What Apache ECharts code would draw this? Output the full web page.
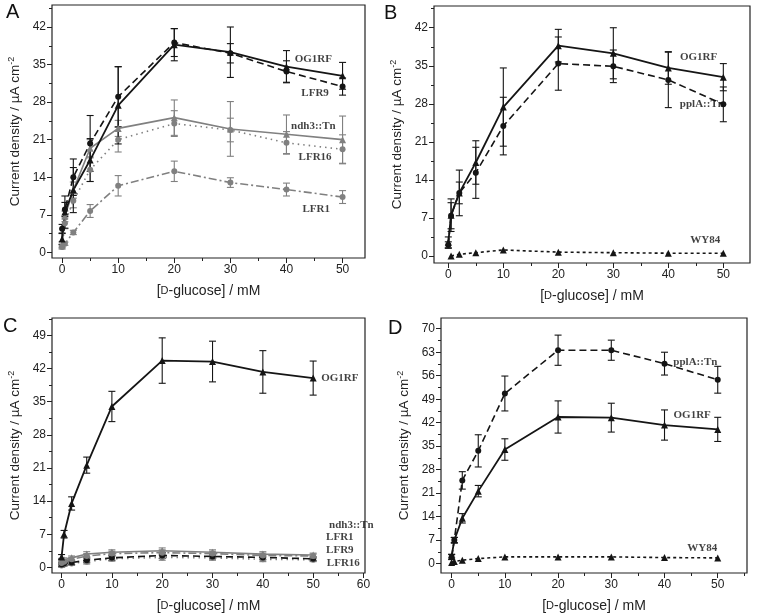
<!DOCTYPE html>
<html>
<head>
	<meta charset="utf-8">
	<title>Current density vs glucose</title>
	<script src="https://cdn.jsdelivr.net/npm/echarts@6.0.0/dist/echarts.min.js"></script>
	<style>
		html, body { margin: 0; padding: 0; background: #fff; }
		#chart { width: 760px; height: 614px; }
	</style>
</head>
<body>
	<div id="chart"></div>
	<script>
		// glucose concentrations (mM)
		var conc = [0, 0.5, 2, 5, 10, 20, 30, 40, 50];

		// panel A / B
		var og1rfAB     = [2.5, 7.5, 11.6, 17.2, 27.4, 38.7, 37.3, 34.6, 32.9];
		var og1rfABErr  = [1.0, 3.0, 4.2, 4.0, 7.2, 3.0, 4.7, 3.0, 2.5];
		var lfr9A       = [4.4, 8.0, 14.0, 20.3, 29.0, 39.1, 37.1, 33.7, 30.9];
		var lfr9AErr    = [0.8, 1.3, 3.4, 5.2, 5.6, 2.6, 1.8, 2.0, 1.6];
		var ndh3A       = [1.5, 6.7, 11.6, 19.4, 23.1, 25.1, 23.0, 22.0, 21.0];
		var ndh3AErr    = [0.5, 1.0, 1.5, 1.6, 1.5, 3.3, 5.1, 3.6, 4.4];
		var lfr16A      = [1.0, 5.4, 9.6, 15.4, 21.0, 24.0, 22.8, 20.4, 19.2];
		var lfr16AErr   = [0.4, 1.0, 1.3, 2.2, 2.3, 2.4, 2.2, 2.1, 2.7];
		var lfr1A       = [1.1, 1.6, 3.7, 7.7, 12.4, 15.1, 13.0, 11.7, 10.3];
		var lfr1AErr    = [0.3, 0.3, 0.4, 1.2, 1.9, 1.9, 0.9, 1.2, 1.2];
		var pplaB       = [2.0, 7.4, 11.6, 15.3, 23.9, 35.4, 34.9, 32.4, 27.9];
		var pplaBErr    = [0.6, 2.4, 2.0, 4.7, 5.3, 4.9, 3.0, 5.1, 3.2];
		var wy84B       = [null, 0.0, 0.3, 0.6, 1.1, 0.7, 0.6, 0.5, 0.5];

		// panel C / D
		var og1rfCD     = [2.2, 7.0, 13.5, 21.6, 34.0, 43.7, 43.5, 41.3, 40.0];
		var og1rfCDErr  = [0.5, 0.8, 1.4, 1.7, 3.2, 4.8, 4.3, 4.5, 3.6];
		var ndh3C       = [1.5, 1.6, 2.0, 2.8, 3.2, 3.5, 3.2, 2.8, 2.6];
		var lfr1C       = [0.9, 1.2, 1.7, 2.4, 2.9, 3.1, 2.9, 2.5, 2.4];
		var lfr9C       = [0.6, 0.8, 1.0, 1.5, 2.0, 2.5, 2.3, 2.1, 1.8];
		var lfr16C      = [0.4, 0.6, 0.8, 1.2, 1.8, 2.1, 2.0, 1.7, 1.6];
		var smallErrC   = [0.4, 0.4, 0.4, 0.5, 0.5, 0.6, 0.5, 0.5, 0.4];
		var pplaD       = [2.0, 7.0, 24.8, 33.6, 50.7, 63.6, 63.6, 59.6, 54.8];
		var pplaDErr    = [0.8, 0.8, 2.6, 4.8, 5.2, 4.5, 3.0, 3.4, 4.0];
		var wy84D       = [0.3, 0.6, 1.0, 1.5, 2.0, 2.0, 2.0, 1.8, 1.7];

		// tick labels
		var xTicks50 = [0, 10, 20, 30, 40, 50];
		var xTicks60 = [0, 10, 20, 30, 40, 50, 60];
		var yTicks42 = [0, 7, 14, 21, 28, 35, 42];
		var yTicks49 = [0, 7, 14, 21, 28, 35, 42, 49];
		var yTicks70 = [0, 7, 14, 21, 28, 35, 42, 49, 56, 63, 70];

		// curve labels [x, y, text]
		var labelsA = [[44.8, 36.0, 'OG1RF'], [45.1, 29.6, 'LFR9'], [44.8, 23.5, 'ndh3::Tn'], [45.1, 17.8, 'LFR16'], [45.3, 8.1, 'LFR1']];
		var labelsB = [[45.5, 36.6, 'OG1RF'], [46.1, 27.9, 'pplA::Tn'], [46.7, 2.9, 'WY84']];
		var labelsC = [[55.3, 40.0, 'OG1RF'], [57.6, 8.9, 'ndh3::Tn'], [55.3, 6.4, 'LFR1'], [55.3, 3.6, 'LFR9'], [56.0, 0.9, 'LFR16']];
		var labelsD = [[45.8, 60.0, 'pplA::Tn'], [45.2, 44.3, 'OG1RF'], [47.1, 4.5, 'WY84']];

		var BLACK = '#151515', GRAY = '#808080';
		var SANS = 'Liberation Sans, Arial, sans-serif';
		var SERIF = 'Liberation Serif, Times New Roman, serif';

		var styles = {
			og1rf: { color: BLACK, type: 'solid', symbol: 'triangle', width: 1.8 },
			lfr9: { color: BLACK, type: [7, 4], symbol: 'circle', width: 1.6 },
			ndh3: { color: GRAY, type: 'solid', symbol: 'triangle', width: 1.6 },
			lfr16: { color: GRAY, type: [1.5, 4], symbol: 'circle', width: 1.6 },
			lfr1: { color: GRAY, type: [8, 3, 2, 3], symbol: 'circle', width: 1.6 },
			ppla: { color: BLACK, type: [7, 4], symbol: 'circle', width: 1.6 },
			wy84: { color: BLACK, type: [3, 3], symbol: 'triangle', width: 1.6 }
		};

		var panels = [
			{ letter: 'A', grid: { left: 52, top: 5, width: 313, height: 253 }, x: [-1.8, 54], y: [-1.06, 46.1], xt: xTicks50, yt: yTicks42, lg: [-46, -3] },
			{ letter: 'B', grid: { left: 434, top: 6, width: 316, height: 257 }, x: [-2.6, 54.85], y: [-1.3, 46], xt: xTicks50, yt: yTicks42, lg: [-50, -3] },
			{ letter: 'C', grid: { left: 52, top: 318, width: 313, height: 257 }, x: [-1.9, 60.3], y: [-1.2, 52.7], xt: xTicks60, yt: yTicks49, lg: [-49, -2] },
			{ letter: 'D', grid: { left: 441, top: 318, width: 306, height: 255 }, x: [-2.0, 55.5], y: [-2.8, 73.2], xt: xTicks50, yt: yTicks70, lg: [-53, 0] }
		];

		function minors(ticks, max) {
			var step = ticks[1] - ticks[0];
			var out = [];
			ticks.forEach(function (t) { if (t + step / 2 <= max) out.push(t + step / 2); });
			return out;
		}

		function pairs(vals) {
			var out = [];
			vals.forEach(function (v, i) { if (v != null) out.push([conc[i], v]); });
			return out;
		}

		var grids = [], xAxes = [], yAxes = [], series = [], graphics = [];
		var minorX = [], minorY = [];

		panels.forEach(function (p, i) {
			grids.push(Object.assign({ show: true, borderColor: '#222', borderWidth: 1.2, backgroundColor: 'transparent' }, p.grid));
			xAxes.push({
				type: 'value', gridIndex: i, min: p.x[0], max: p.x[1], position: 'bottom',
				axisLine: { show: false, onZero: false }, splitLine: { show: false },
				axisTick: { show: true, inside: false, length: 5, lineStyle: { color: '#222' }, customValues: p.xt },
				axisLabel: { color: '#222', fontSize: 12, fontFamily: SANS, margin: 6, customValues: p.xt },
				name: '[{sc|D}-glucose] / mM', nameLocation: 'middle', nameGap: 26,
				nameTextStyle: { color: '#222', fontSize: 14, fontFamily: SANS, rich: { sc: { fontSize: 11, fontFamily: SANS, color: '#222' } } }
			});
			yAxes.push({
				type: 'value', gridIndex: i, min: p.y[0], max: p.y[1], position: 'left',
				axisLine: { show: false, onZero: false }, splitLine: { show: false },
				axisTick: { show: true, inside: false, length: 5, lineStyle: { color: '#222' }, customValues: p.yt },
				axisLabel: { color: '#222', fontSize: 12, fontFamily: SANS, margin: 6, customValues: p.yt },
				name: 'Current density / \u00b5A cm{sup|-2}', nameLocation: 'middle', nameGap: 29, nameRotate: 90,
				nameTextStyle: { color: '#222', fontSize: 13.5, fontFamily: SANS, rich: { sup: { fontSize: 9, fontFamily: SANS, color: '#222', padding: [0, 0, 7, 0] } } }
			});
			// minor ticks on extra axes sharing the same grid
			minorX.push({
				type: 'value', gridIndex: i, min: p.x[0], max: p.x[1], position: 'bottom', offset: 0,
				axisLine: { show: false, onZero: false }, splitLine: { show: false }, axisLabel: { show: false },
				axisTick: { show: true, inside: false, length: 3, lineStyle: { color: '#222', width: 1 }, customValues: minors(p.xt, p.x[1]) }
			});
			minorY.push({
				type: 'value', gridIndex: i, min: p.y[0], max: p.y[1], position: 'left', offset: 0,
				axisLine: { show: false, onZero: false }, splitLine: { show: false }, axisLabel: { show: false },
				axisTick: { show: true, inside: false, length: 3, lineStyle: { color: '#222', width: 1 }, customValues: minors(p.yt, p.y[1]) }
			});
			graphics.push({
				type: 'text', left: p.grid.left + p.lg[0], top: p.grid.top + p.lg[1],
				style: { text: p.letter, font: '20px ' + SANS, fill: '#111' }
			});
		});
		xAxes = xAxes.concat(minorX);
		yAxes = yAxes.concat(minorY);

		function addCurve(panel, vals, errs, st) {
			series.push({
				type: 'line', xAxisIndex: panel, yAxisIndex: panel,
				data: pairs(vals), symbol: st.symbol, symbolSize: st.symbol === 'triangle' ? 7 : 6,
				lineStyle: { color: st.color, width: st.width, type: st.type },
				itemStyle: { color: st.color }, z: 3, animation: false, silent: true
			});
			if (!errs) return;
			var ed = [];
			vals.forEach(function (v, k) { if (v != null) ed.push([conc[k], v, errs[k]]); });
			series.push({
				type: 'custom', xAxisIndex: panel, yAxisIndex: panel, data: ed,
				encode: { x: 0, y: 1 }, z: 2, animation: false, silent: true,
				renderItem: function (params, api) {
					var x = api.value(0), y = api.value(1), e = api.value(2);
					var t = api.coord([x, y + e]), b = api.coord([x, y - e]);
					var w = 3.5, s = { stroke: st.color, lineWidth: 1.1 };
					return { type: 'group', children: [
						{ type: 'line', shape: { x1: t[0], y1: t[1], x2: b[0], y2: b[1] }, style: s },
						{ type: 'line', shape: { x1: t[0] - w, y1: t[1], x2: t[0] + w, y2: t[1] }, style: s },
						{ type: 'line', shape: { x1: b[0] - w, y1: b[1], x2: b[0] + w, y2: b[1] }, style: s }
					] };
				}
			});
		}

		function addLabels(panel, list) {
			series.push({
				type: 'scatter', xAxisIndex: panel, yAxisIndex: panel, symbolSize: 0, silent: true, animation: false, z: 5,
				data: list.map(function (l) { return { value: [l[0], l[1]], name: l[2] }; }),
				label: { show: true, position: 'inside', formatter: '{b}', color: '#111', fontFamily: SERIF, fontWeight: 'bold', fontSize: 11 }
			});
		}

		// A
		addCurve(0, lfr1A, lfr1AErr, styles.lfr1);
		addCurve(0, lfr16A, lfr16AErr, styles.lfr16);
		addCurve(0, ndh3A, ndh3AErr, styles.ndh3);
		addCurve(0, lfr9A, lfr9AErr, styles.lfr9);
		addCurve(0, og1rfAB, og1rfABErr, styles.og1rf);
		addLabels(0, labelsA);
		// B
		addCurve(1, wy84B, null, styles.wy84);
		addCurve(1, pplaB, pplaBErr, styles.ppla);
		addCurve(1, og1rfAB, og1rfABErr, styles.og1rf);
		addLabels(1, labelsB);
		// C
		addCurve(2, lfr16C, smallErrC, styles.lfr16);
		addCurve(2, lfr9C, smallErrC, styles.lfr9);
		addCurve(2, lfr1C, smallErrC, styles.lfr1);
		addCurve(2, ndh3C, smallErrC, styles.ndh3);
		addCurve(2, og1rfCD, og1rfCDErr, styles.og1rf);
		addLabels(2, labelsC);
		// D
		addCurve(3, wy84D, null, styles.wy84);
		addCurve(3, pplaD, pplaDErr, styles.ppla);
		addCurve(3, og1rfCD, og1rfCDErr, styles.og1rf);
		addLabels(3, labelsD);

		var chart = echarts.init(document.getElementById('chart'));
		chart.setOption({
			backgroundColor: '#fff',
			animation: false,
			grid: grids,
			xAxis: xAxes,
			yAxis: yAxes,
			graphic: graphics,
			series: series
		});
	</script>
</body>
</html>
